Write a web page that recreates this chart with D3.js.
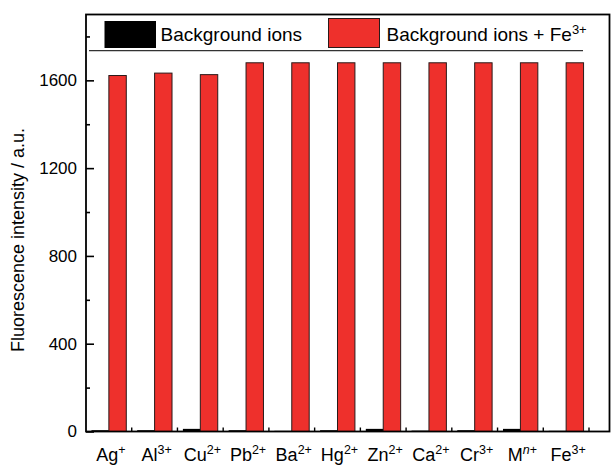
<!DOCTYPE html>
<html>
<head>
<meta charset="utf-8">
<script src="https://cdn.jsdelivr.net/npm/d3@7"></script>
<style>
  html, body { margin: 0; padding: 0; background: #fff; }
  svg { display: block; font-family: "Liberation Sans", Arial, Helvetica, sans-serif; }
</style>
</head>
<body>
<svg id="chart" width="611" height="466"></svg>
<script>
// Ion names: base symbol + superscript charge (italic n for the generic Mn+)
const ions = ["Ag", "Al", "Cu", "Pb", "Ba", "Hg", "Zn", "Ca", "Cr", "M", "Fe"];
const charges = ["+", "3+", "2+", "2+", "2+", "2+", "2+", "2+", "3+", "n+", "3+"];

// Fluorescence intensity (a.u.)
const backgroundOnly = [6, 6, 12, 6, 3, 6, 12, 4, 6, 12, 3];
const backgroundPlusFe = [1622, 1633, 1626, 1680, 1680, 1680, 1680, 1680, 1680, 1680, 1680];

const seriesNames = ["Background ions", "Background ions + Fe3+"];
const seriesColors = ["#000000", "#ee302c"];

const majorTicks = [0, 400, 800, 1200, 1600];
const minorTicks = [200, 600, 1000, 1400, 1800];

const svg = d3.select("#chart");

const plot = { left: 86, right: 609.5, top: 14.5, bottom: 431.5 };

const x = d3.scaleBand()
  .domain(ions)
  .range([plot.left, 589])
  .paddingInner(0.238)
  .paddingOuter(0.119);

const xs = d3.scaleBand()
  .domain(seriesNames)
  .range([0, x.bandwidth()]);

const y = d3.scaleLinear().domain([0, 1900]).range([plot.bottom, plot.top]);

// Bars
const rows = ions.map((ion, i) => ({
  ion,
  values: [backgroundOnly[i], backgroundPlusFe[i]]
}));

const groups = svg.append("g").selectAll("g")
  .data(rows)
  .join("g")
  .attr("transform", d => `translate(${x(d.ion)},0)`);

groups.selectAll("rect")
  .data(d => d.values.map((v, k) => ({ v, k })))
  .join("rect")
  .attr("x", d => xs(seriesNames[d.k]))
  .attr("width", xs.bandwidth())
  .attr("y", d => y(d.v))
  .attr("height", d => y(0) - y(d.v))
  .attr("fill", d => seriesColors[d.k])
  .attr("stroke", d => d.k === 1 ? "#2a1a1a" : "none")
  .attr("stroke-width", 1);

// Y axis: major ticks with labels, inward
const yAxis = d3.axisLeft(y)
  .tickValues(majorTicks)
  .tickSize(-8)
  .tickPadding(9)
  .tickFormat(d3.format("d"));

const gy = svg.append("g")
  .attr("transform", `translate(${plot.left},0)`)
  .call(yAxis);
gy.select(".domain").remove();
gy.selectAll(".tick line").attr("stroke", "#000").attr("stroke-width", 1.6);
gy.selectAll(".tick text")
  .attr("font-size", 17)
  .attr("fill", "#000")
  .attr("font-family", "Liberation Sans, Arial, sans-serif");

// Y axis: minor ticks
const gyMinor = svg.append("g")
  .attr("transform", `translate(${plot.left},0)`)
  .call(d3.axisLeft(y).tickValues(minorTicks).tickSize(-4).tickFormat(""));
gyMinor.select(".domain").remove();
gyMinor.selectAll(".tick line").attr("stroke", "#000").attr("stroke-width", 1.6);

// X axis: small ticks between the groups
const gap = x.step() * x.paddingInner();
svg.append("g").selectAll("line")
  .data(ions)
  .join("line")
  .attr("x1", d => x(d) + x.bandwidth() + gap / 2)
  .attr("x2", d => x(d) + x.bandwidth() + gap / 2)
  .attr("y1", plot.bottom)
  .attr("y2", plot.bottom - 4)
  .attr("stroke", "#000")
  .attr("stroke-width", 1.4);

// X labels with superscript charges
const xl = svg.append("g").selectAll("text")
  .data(ions.map((ion, i) => ({ ion, charge: charges[i] })))
  .join("text")
  .attr("x", d => x(d.ion) + xs(seriesNames[1]) + 2)
  .attr("y", 461)
  .attr("text-anchor", "middle")
  .attr("font-size", 18)
  .attr("fill", "#000");
xl.append("tspan").text(d => d.ion);
xl.each(function (d) {
  const t = d3.select(this);
  if (d.charge === "n+") {
    t.append("tspan").attr("dy", -7).attr("font-size", 12.5)
      .attr("font-style", "italic").text("n");
    t.append("tspan").attr("font-size", 12.5).text("+");
  } else {
    t.append("tspan").attr("dy", -7).attr("font-size", 12.5).text(d.charge);
  }
});

// Y title
svg.append("text")
  .attr("transform", "translate(23.5,240) rotate(-90)")
  .attr("text-anchor", "middle")
  .attr("font-size", 18)
  .attr("fill", "#000")
  .text("Fluorescence intensity / a.u.");

// Legend
const legend = svg.append("g");
legend.append("line")
  .attr("x1", 89).attr("x2", 583)
  .attr("y1", 50.7).attr("y2", 50.7)
  .attr("stroke", "#333").attr("stroke-width", 1.2);

legend.append("rect")
  .attr("x", 104.5).attr("y", 21).attr("width", 51.5).attr("height", 27)
  .attr("fill", seriesColors[0]);
legend.append("text")
  .attr("x", 160.5).attr("y", 41.3)
  .attr("font-size", 19).attr("fill", "#000")
  .text(seriesNames[0]);

legend.append("rect")
  .attr("x", 328.5).attr("y", 18.5).attr("width", 51).attr("height", 29)
  .attr("fill", seriesColors[1]).attr("stroke", "#2a1a1a").attr("stroke-width", 1);
const lt = legend.append("text")
  .attr("x", 386.5).attr("y", 41.3)
  .attr("font-size", 19).attr("fill", "#000");
lt.append("tspan").text("Background ions + Fe");
lt.append("tspan").attr("dy", -7).attr("font-size", 13).text("3+");

// Plot frame
svg.append("rect")
  .attr("x", plot.left).attr("y", plot.top)
  .attr("width", plot.right - plot.left).attr("height", plot.bottom - plot.top)
  .attr("fill", "none")
  .attr("stroke", "#000")
  .attr("stroke-width", 1.8);
</script>
</body>
</html>
